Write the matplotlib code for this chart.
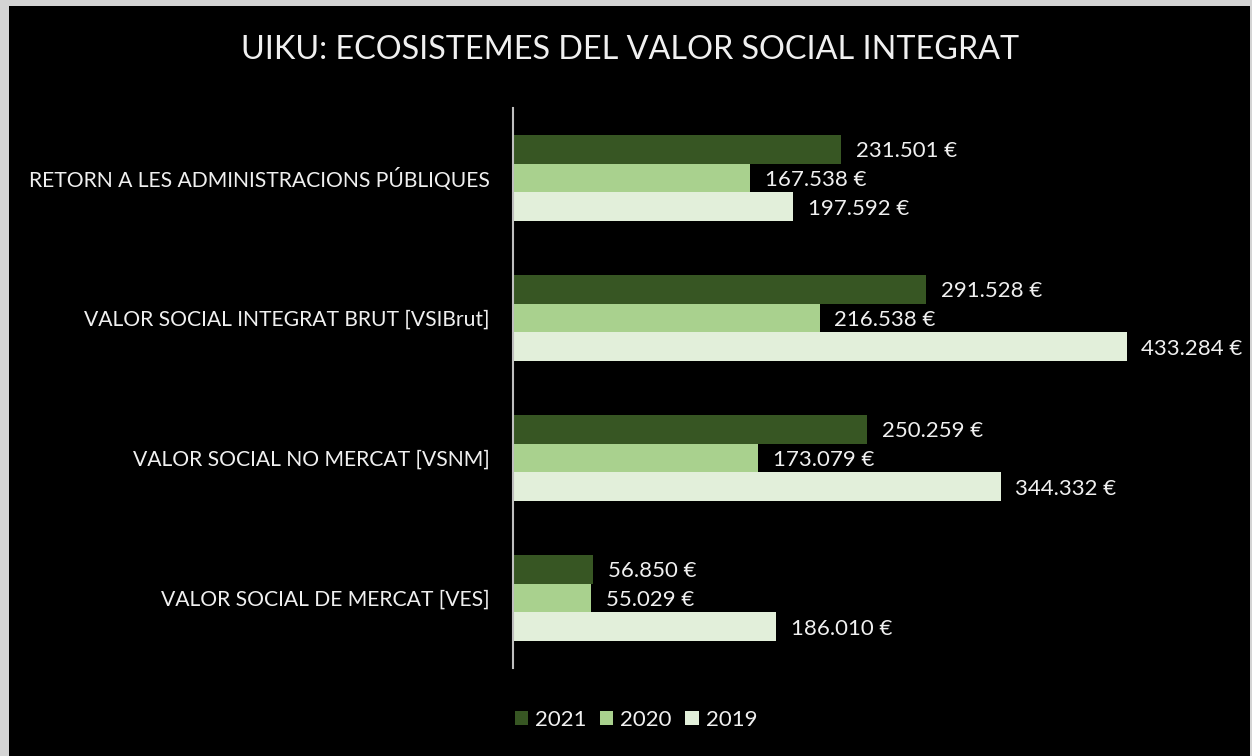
import matplotlib
matplotlib.use("Agg")
import matplotlib.pyplot as plt
import numpy as np

categories = ["VALOR SOCIAL DE MERCAT [VES]",
              "VALOR SOCIAL NO MERCAT [VSNM]",
              "VALOR SOCIAL INTEGRAT BRUT [VSIBrut]",
              "RETORN A LES ADMINISTRACIONS PÚBLIQUES"]
years = ["2021", "2020", "2019"]
v2021 = [56850, 250259, 291528, 231501]
v2020 = [55029, 173079, 216538, 167538]
v2019 = [186010, 344332, 433284, 197592]
colors = ["#375623", "#A9D18E", "#E2EFDA"]
title = "UIKU: ECOSISTEMES DEL VALOR SOCIAL INTEGRAT"

def fmt(v):
    return f"{v:,}".replace(",", ".") + " €"

plt.rcParams['font.family'] = ['Lato', 'DejaVu Sans']
W, H = 1252, 756
fig = plt.figure(figsize=(W/100, H/100), dpi=100)
fig.patch.set_facecolor("#d4d4d4")
bg = fig.add_axes([9/W, 0, (1250-9)/W, 1-6/H], zorder=-5)
bg.set_facecolor("black")
bg.set_xticks([]); bg.set_yticks([])
for s in bg.spines.values():
    s.set_visible(False)

ax = fig.add_axes([513/W, 1-668/H, 708/W, 560/H], zorder=1)
ax.set_facecolor("none")
y = np.arange(len(categories))
h = 0.207
txtcol = "#f0f0f0"
for off, vals, c, lab in [(h, v2021, colors[0], years[0]),
                          (0, v2020, colors[1], years[1]),
                          (-h, v2019, colors[2], years[2])]:
    bars = ax.barh(y + off, vals, height=h, color=c, label=lab)
    for b, v in zip(bars, vals):
        ax.text(b.get_width() + 10500, b.get_y() + b.get_height()/2 - 0.012, fmt(v),
                va="center", ha="left", color=txtcol, fontsize=16)

ax.set_xlim(0, 500000)
ax.set_ylim(-0.5, 3.5)
ax.set_yticks(y)
ax.set_yticklabels(categories, color=txtcol, fontsize=15.2)
ax.tick_params(axis="y", length=0, pad=17)
ax.set_xticks([])
for s in ["top", "right", "bottom"]:
    ax.spines[s].set_visible(False)
ax.spines["left"].set_color("#bfbfbf")
ax.spines["left"].set_linewidth(1.5)

fig.text(630/W, 1-50/H, title, ha="center", va="center", color=txtcol, fontsize=23.3)

leg = fig.legend(loc="center", bbox_to_anchor=(636/W, 1-720/H), ncol=3, frameon=False,
                 fontsize=16, handlelength=0.6, handleheight=0.6, handletextpad=0.32,
                 columnspacing=0.6)
for t in leg.get_texts():
    t.set_color(txtcol)

fig.savefig("out.png", dpi=100, facecolor=fig.get_facecolor())
